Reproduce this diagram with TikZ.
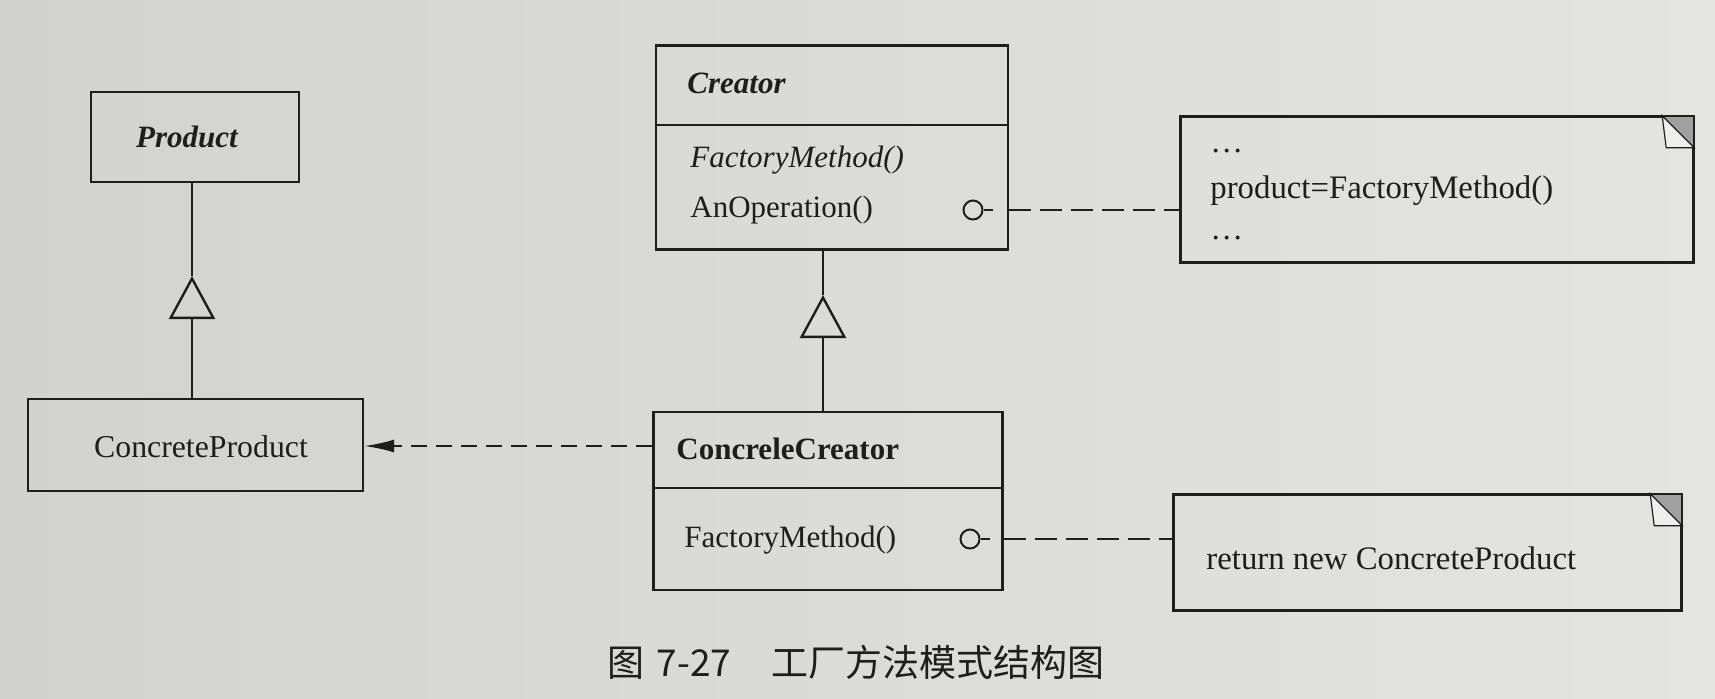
\documentclass[tikz,border=0pt]{standalone}
\usepackage{fontspec}
\setmainfont{Liberation Serif}
\newfontfamily\cjk{Noto Sans CJK SC}
\usetikzlibrary{arrows.meta}
\definecolor{paperL}{RGB}{210,210,207}
\definecolor{paperR}{RGB}{228,228,225}
\definecolor{ink}{RGB}{30,30,30}
\definecolor{foldgray}{RGB}{160,160,160}
\definecolor{flap}{RGB}{238,238,236}
\begin{document}
\begin{tikzpicture}[x=0.5pt,y=-0.5pt,
  txt/.style={font=\fontsize{15.5}{18}\selectfont, text=ink, inner sep=0pt},
  notetxt/.style={font=\fontsize{16.4}{19}\selectfont, text=ink, inner sep=0pt},
  box/.style={draw=ink, line width=1.2pt, inner sep=0pt},
  rule/.style={draw=ink, line width=1.2pt},
  notedash/.style={draw=ink, line width=1.2pt, dash pattern=on 11pt off 4.5pt},
  depdash/.style={draw=ink, line width=1.1pt, dash pattern=on 8pt off 4.5pt},
  port/.style={circle, draw=ink, line width=1pt, minimum size=9.5pt, inner sep=0pt},
  inherit/.style={draw=ink, line width=1.2pt, -{Triangle[open, length=21.5pt, width=23pt, line width=1.2pt]}},
  fold/.style={fill=foldgray},
]
\shade[left color=paperL, right color=paperR] (0,0) rectangle (1715,698);
\useasboundingbox (0,0) rectangle (1715,698);

% Product
\node[box, minimum width=104pt, minimum height=45pt] (prod) at (195,137) {};
\node[txt, font=\fontsize{15.5}{18}\selectfont\bfseries\itshape] (prodt) at (187,137) {Product};

% ConcreteProduct
\node[box, minimum width=167.5pt, minimum height=46pt] (cprod) at (195.5,445) {};
\node[txt, font=\fontsize{15.9}{18}\selectfont] (cprodt) at (201,447) {ConcreteProduct};

% Creator
\node[box, minimum width=176pt, minimum height=102pt] (cr) at (832,147.5) {};
\draw[rule] (cr.west |- 0,125) -- (cr.east |- 0,125);
\node[txt, anchor=west, font=\fontsize{15.5}{18}\selectfont\bfseries\itshape] (crt) at (687,83) {Creator};
\node[txt, anchor=west, font=\fontsize{15.5}{18}\selectfont\itshape] (crm1) at (690,160) {FactoryMethod()};
\node[txt, anchor=west] (crm2) at (690,210) {AnOperation()};
\node[port] (p1) at (973,210) {};
\draw[rule] (p1.east) -- (993,210);

% ConcreteCreator
\node[box, minimum width=174.5pt, minimum height=89pt] (cc) at (828,501) {};
\draw[rule] (cc.west |- 0,488) -- (cc.east |- 0,488);
\node[txt, anchor=west, font=\fontsize{15.5}{18}\selectfont\bfseries] (cct) at (676,449) {ConcreleCreator};
\node[txt, anchor=west] (ccm) at (684,540) {FactoryMethod()};
\node[port] (p2) at (970,539) {};
\draw[rule] (p2.east) -- (990,539);

% Notes
\node[box, minimum width=256pt, minimum height=72.5pt] (n1) at (1437,189.5) {};
\fill[fold] ([xshift=-16pt]n1.north east) -- (n1.north east) -- ([yshift=-16pt]n1.north east) -- cycle;
\draw[draw=ink, line width=0.6pt, fill=flap] ([xshift=-16pt]n1.north east) -- ([xshift=-14pt,yshift=-16pt]n1.north east) -- ([yshift=-16pt]n1.north east) -- cycle;
\draw[rule] (n1.north west) rectangle (n1.south east);
\node[notetxt, anchor=base west] (n1a) at (1210,152) {…};
\node[notetxt, anchor=west] (n1b) at (1210,191) {product=FactoryMethod()};
\node[notetxt, anchor=base west] (n1c) at (1210,239) {…};

\node[box, minimum width=253.5pt, minimum height=57.5pt] (n2) at (1427.5,552.5) {};
\fill[fold] ([xshift=-16pt]n2.north east) -- (n2.north east) -- ([yshift=-16pt]n2.north east) -- cycle;
\draw[draw=ink, line width=0.6pt, fill=flap] ([xshift=-16pt]n2.north east) -- ([xshift=-14pt,yshift=-16pt]n2.north east) -- ([yshift=-16pt]n2.north east) -- cycle;
\draw[rule] (n2.north west) rectangle (n2.south east);
\node[notetxt, anchor=west] (n2a) at (1206,558) {return new ConcreteProduct};

% note connectors
\draw[notedash] (cr.east |- p1) -- (n1.west |- p1);
\draw[notedash] (cc.east |- p2) -- (n2.west |- p2);

% inheritance
\coordinate (t1) at (192,276);
\draw[inherit] (cprod.north -| t1) -- (t1);
\draw[rule] (t1) -- (prod.south -| t1);
\coordinate (t2) at (823,295);
\draw[inherit] (cc.north -| t2) -- (t2);
\draw[rule] (t2) -- (cr.south -| t2);

% dependency
\draw[depdash, -{Latex[length=15pt, width=6.5pt]}] (cc.west |- 0,446) -- (cprod.east |- 0,446);

% caption
\node[inner sep=0pt, text=ink, font=\cjk\fontsize{18.5}{22}\selectfont] (cap) at (856,662) {图\hspace{6pt}7-27\hspace{20pt}工厂方法模式结构图};
\end{tikzpicture}
\end{document}
